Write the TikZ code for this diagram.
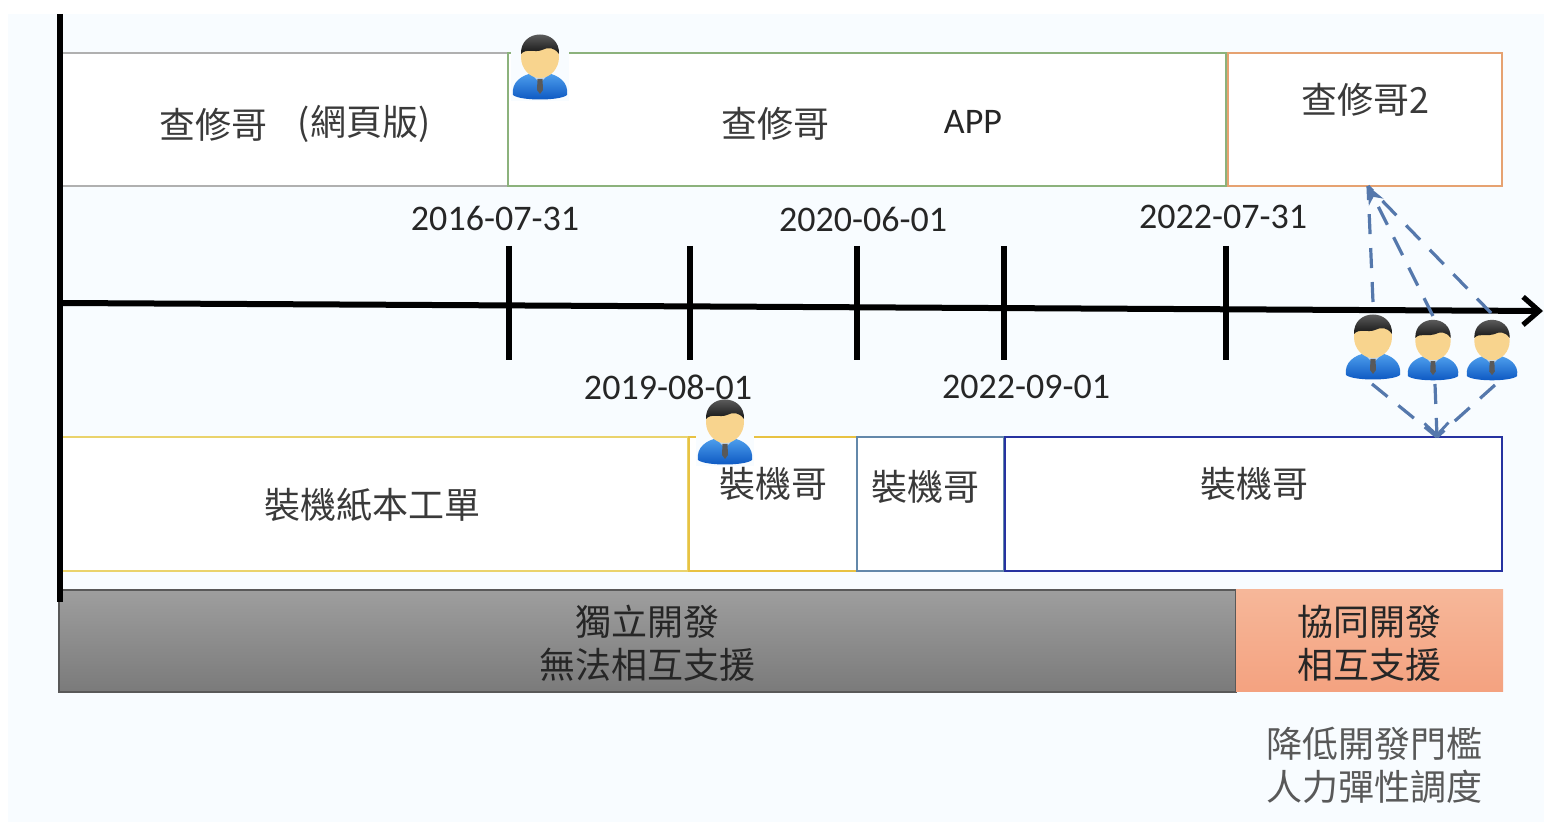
\documentclass[tikz,border=0pt]{standalone}
\usepackage{fontspec}
\setmainfont{Carlito}
\newfontfamily\cjk{Noto Sans CJK TC}
\usetikzlibrary{arrows.meta}
\definecolor{pagebg}{HTML}{F8FCFF}
\definecolor{ink}{HTML}{3A3A3A}
\definecolor{dashblue}{HTML}{5578AC}
\definecolor{facecol}{HTML}{F8D48E}
\definecolor{bodytop}{HTML}{4FA0EE}
\definecolor{bodybot}{HTML}{0A55C0}
\definecolor{collarcol}{HTML}{C8D8E8}
\definecolor{topgray}{HTML}{B0B0B0}
\definecolor{topgreen}{HTML}{8CB27C}
\definecolor{toporange}{HTML}{E6A271}
\definecolor{botyellow}{HTML}{EAD36C}
\definecolor{botgold}{HTML}{E8C243}
\definecolor{botsteel}{HTML}{6388AA}
\definecolor{botnavy}{HTML}{2632A0}
\definecolor{peachtop}{HTML}{F6B799}
\definecolor{peachbot}{HTML}{F4A280}
\tikzset{
  x=0.5pt,y=-0.5pt,
  box/.style={draw=#1,line width=1.2pt,fill=white,anchor=north west,inner sep=0pt,outer sep=0pt},
  txt/.style={font=\cjk\fontsize{18}{21.5}\selectfont,text=ink,inner sep=0pt,align=center},
  date/.style={font=\fontsize{18}{21.5}\selectfont,text=black!85,inner sep=0pt},
  axisline/.style={line width=2.8pt,black},
  tickline/.style={line width=2.7pt,black},
  dashlink/.style={dashblue,line width=1.6pt,dash pattern=on 10pt off 7pt},
  tipup/.style={-{Stealth[length=9pt,width=8pt,fill=dashblue,sep=0pt]}},
  tipdown/.style={-{Straight Barb[length=6pt,width=12pt,line width=1.4pt]}},
  pics/person/.style={code={
    \fill[pagebg] (-29,-32) rectangle (29,33);
    \shade[top color=bodytop,bottom color=bodybot]
      (-27,27) .. controls (-29,14) and (-18,7) .. (-7,5) -- (7,5)
      .. controls (18,7) and (29,14) .. (27,27) .. controls (20,33) and (-20,33) .. (-27,27) -- cycle;
    \fill[collarcol] (-9,6) -- (0,15) -- (9,6) -- cycle;
    \fill[black!65] (-2.5,11) -- (2.5,11) -- (3,22) -- (0,26) -- (-3,22) -- cycle;
    \fill[facecol] (0,-11) ellipse [x radius=19,y radius=21];
    \shade[top color=black!55,bottom color=black!92]
      (-19,-14) .. controls (-20,-40) and (20,-40) .. (19,-14)
      .. controls (14,-21) and (8,-21) .. (2,-18) .. controls (-5,-15) and (-14,-20) .. (-19,-14) -- cycle;
  }}
}
\begin{document}
\begin{tikzpicture}
\useasboundingbox (0,0) rectangle (1544,822);
\fill[white] (0,0) rectangle (1544,822);
\fill[pagebg] (8,14) rectangle (1544,822);

% top row
\node[box=topgray,minimum width=223pt,minimum height=66.5pt] (top1) at (62,53) {};
\node[box=topgreen,minimum width=359pt,minimum height=66.5pt] (top2) at (508,53) {};
\node[box=toporange,minimum width=137pt,minimum height=66.5pt] (top3) at (1228,53) {};
% bottom row
\node[box=botyellow,minimum width=313pt,minimum height=67pt] (bot1) at (62,437) {};
\node[box=botgold,minimum width=84pt,minimum height=67pt] (bot2) at (689,437) {};
\node[box=botsteel,minimum width=73.5pt,minimum height=67pt] (bot3) at (857,437) {};
\node[box=botnavy,minimum width=248.5pt,minimum height=67pt] (bot4) at (1005,437) {};
% bars
\node[anchor=north west,draw=black!65,line width=0.7pt,top color=black!38,bottom color=black!52,minimum width=588.5pt,minimum height=51pt,inner sep=0pt,outer sep=0pt] (gray) at (59,590) {};
\node[anchor=north west,top color=peachtop,bottom color=peachbot,minimum width=133.5pt,minimum height=51pt,inner sep=0pt,outer sep=0pt] (peach) at (1236,590) {};

% axes
\coordinate (vtop) at (60,14);
\coordinate (vbot) at (60,602);
\coordinate (hstart) at (60,303);
\coordinate (hend) at (1543,311);
\draw[axisline] (vtop) -- (vbot);
\draw[axisline,line width=3pt,-{Straight Barb[length=8pt,width=14pt,line width=2.6pt]}] (hstart) -- (hend);
\foreach \n/\x in {a/509,b/690,c/857,d/1004,e/1226}{
  \coordinate (tick\n t) at (\x,246);
  \coordinate (tick\n b) at (\x,360);
  \draw[tickline] (tick\n t) -- (tick\n b);
}

% dates
\node[date] (d1) at (495,218) {2016-07-31};
\node[date] (d2) at (863,219) {2020-06-01};
\node[date] (d3) at (1223,217) {2022-07-31};
\node[date] (d4) at (668,387) {2019-08-01};
\node[date] (d5) at (1026,387) {2022-09-01};

% dashed links
\coordinate (u1) at (1373,302);
\coordinate (u2) at (1433,316);
\coordinate (u3) at (1491,313);
\coordinate (l1) at (1372,384);
\coordinate (l2) at (1435,384);
\coordinate (l3) at (1495,385);
\coordinate (tipT) at (1368,186);
\coordinate (tipB) at (1437,437);

% people
\pic at (540,68) {person};
\pic at (725,433) {person};

\draw[dashlink] (u1) -- (tipT);
\draw[dashlink] (u3) -- (tipT);
\draw[dashlink,tipup] (u2) -- (tipT);

\pic at (1373,348) {person};
\pic[scale=0.93] at (1433,351) {person};
\pic[scale=0.93] at (1492,351) {person};

\draw[dashlink] (l1) -- (tipB);
\draw[dashlink] (l3) -- (tipB);
\draw[dashlink,tipdown] (l2) -- (tipB);

% labels
\node[txt] (t1) at (213,125) {查修哥};
\node[txt] (t2) at (364,124) {(網頁版)};
\node[txt] (t3) at (775,124) {查修哥};
\node[date] (t4) at (973,122) {APP};
\node[txt] (t5) at (1365,100) {查修哥2};
\node[txt] (b1) at (372,505) {裝機紙本工單};
\node[txt] (b2) at (773,484) {裝機哥};
\node[txt] (b3) at (925,487) {裝機哥};
\node[txt] (b4) at (1254,484) {裝機哥};
\node[txt,text=black!85] (g1) at (647,643) {獨立開發\\無法相互支援};
\node[txt,text=black!85] (g2) at (1369,643) {協同開發\\相互支援};
\node[txt,text=black!65] (g3) at (1374,765) {降低開發門檻\\人力彈性調度};
\end{tikzpicture}
\end{document}
